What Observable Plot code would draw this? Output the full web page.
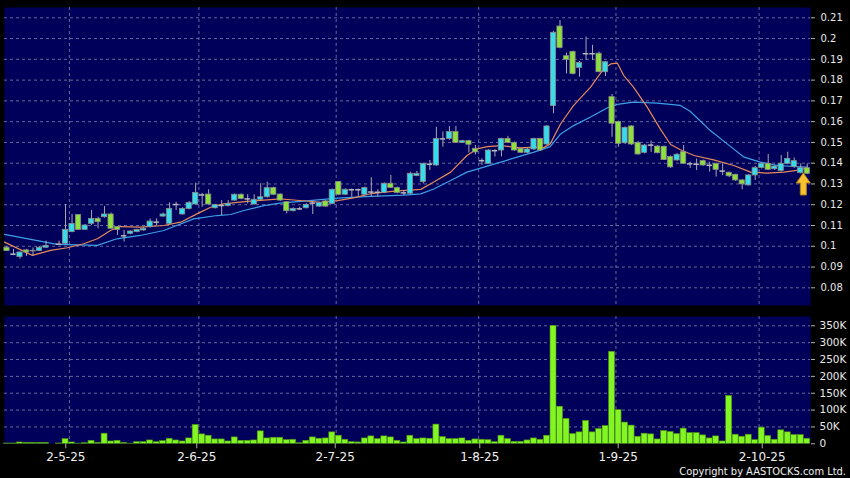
<!DOCTYPE html>
<html>
<head>
<meta charset="utf-8">
<script src="https://cdn.jsdelivr.net/npm/d3@7"></script>
<script src="https://cdn.jsdelivr.net/npm/@observablehq/plot@0.6"></script>
<style>
  html, body { margin: 0; padding: 0; background: #000; }
  #wrap { position: relative; width: 850px; height: 478px; background: #000; overflow: hidden; font-family: "DejaVu Sans", sans-serif; }
  #price { position: absolute; left: 0; top: 0; }
  #vol { position: absolute; left: 0; top: 310px; }
  #copy { position: absolute; right: 4px; top: 466px; line-height: 11px; color: #f0f0f0; font-size: 11px; font-family: "DejaVu Sans Condensed", "DejaVu Sans", sans-serif; font-stretch: condensed; }
</style>
</head>
<body>
<div id="wrap">
  <div id="price"></div>
  <div id="vol"></div>
  <div id="copy">Copyright by AASTOCKS.com Ltd.</div>
</div>
<script>
// ---- data (one entry per trading day) ----
const open = [0.0993,0.0962,0.0948,0.0980,0.0975,0.0977,0.0993,null,0.1010,0.1012,
0.1068,0.1150,0.1079,0.1108,0.1132,0.1140,0.1153,0.1092,0.1050,0.1060,
0.1068,0.1076,0.1092,0.1116,0.1143,0.1108,0.1201,0.1153,0.1180,0.1201,
0.1247,0.1249,0.1183,0.1196,0.1193,0.1220,0.1248,0.1228,0.1201,0.1224,
0.1236,0.1280,0.1249,0.1212,0.1169,0.1180,0.1183,0.1208,0.1191,0.1216,
0.1204,0.1309,0.1248,0.1272,0.1272,0.1248,0.1261,0.1260,0.1257,0.1301,
0.1280,0.1257,0.1253,0.1338,0.1309,0.1395,0.1389,0.1517,0.1517,0.1550,
0.1498,0.1506,0.1469,0.1412,0.1397,0.1460,0.1461,0.1517,0.1498,0.1469,
0.1450,0.1466,0.1517,0.1490,0.1675,0.2058,0.1915,0.1935,0.1859,0.1927,
0.1927,0.1927,0.1838,0.1718,0.1598,0.1496,0.1577,0.1498,0.1450,0.1487,
0.1480,0.1479,0.1430,0.1413,0.1453,0.1397,0.1395,0.1410,0.1390,0.1397,
0.1362,0.1354,0.1344,0.1317,0.1293,0.1341,0.1377,0.1397,0.1371,0.1362,
0.1397,0.1381,0.1352,0.1376];
const high = [0.1000,0.0985,0.0972,0.0985,0.0992,0.0998,0.1025,null,0.1025,0.1201,
0.1153,0.1152,0.1105,0.1172,0.1140,0.1191,0.1160,0.1095,0.1076,0.1075,
0.1082,0.1090,0.1132,0.1132,0.1160,0.1209,0.1212,0.1185,0.1215,0.1304,
0.1255,0.1272,0.1202,0.1220,0.1220,0.1252,0.1252,0.1249,0.1248,0.1301,
0.1309,0.1285,0.1252,0.1215,0.1185,0.1188,0.1205,0.1212,0.1212,0.1220,
0.1275,0.1312,0.1276,0.1275,0.1275,0.1285,0.1330,0.1272,0.1305,0.1341,
0.1285,0.1268,0.1357,0.1360,0.1400,0.1413,0.1573,0.1550,0.1577,0.1577,
0.1510,0.1510,0.1485,0.1421,0.1465,0.1465,0.1520,0.1529,0.1502,0.1472,
0.1470,0.1520,0.1520,0.1582,0.2035,0.2087,0.1930,0.1940,0.1890,0.2007,
0.1967,0.1935,0.1890,0.1731,0.1602,0.1575,0.1580,0.1505,0.1490,0.1507,
0.1485,0.1482,0.1435,0.1445,0.1485,0.1405,0.1420,0.1415,0.1405,0.1400,
0.1397,0.1357,0.1347,0.1320,0.1345,0.1385,0.1400,0.1442,0.1390,0.1437,
0.1453,0.1425,0.1397,0.1397];
const low = [0.0975,0.0955,0.0938,0.0951,0.0951,0.0975,0.0990,null,0.1005,0.1008,
0.1065,0.1076,0.1076,0.1100,0.1084,0.1135,0.1084,0.1052,0.1020,0.1055,
0.1065,0.1072,0.1088,0.1100,0.1140,0.1105,0.1172,0.1150,0.1175,0.1198,
0.1188,0.1198,0.1180,0.1148,0.1190,0.1216,0.1224,0.1204,0.1198,0.1220,
0.1232,0.1244,0.1216,0.1156,0.1165,0.1172,0.1180,0.1153,0.1188,0.1188,
0.1200,0.1244,0.1244,0.1236,0.1240,0.1244,0.1237,0.1237,0.1253,0.1278,
0.1253,0.1244,0.1250,0.1335,0.1300,0.1365,0.1385,0.1477,0.1510,0.1495,
0.1495,0.1449,0.1440,0.1389,0.1395,0.1430,0.1430,0.1495,0.1458,0.1448,
0.1446,0.1462,0.1458,0.1485,0.1638,0.1950,0.1830,0.1825,0.1814,0.1895,
0.1895,0.1835,0.1817,0.1525,0.1477,0.1490,0.1485,0.1438,0.1445,0.1452,
0.1445,0.1413,0.1375,0.1410,0.1395,0.1375,0.1365,0.1385,0.1357,0.1333,
0.1340,0.1330,0.1312,0.1272,0.1290,0.1317,0.1372,0.1365,0.1365,0.1357,
0.1393,0.1375,0.1349,0.1345];
const close = [0.0977,0.0962,0.0970,0.0970,0.0978,0.0993,0.1002,null,0.1010,0.1079,
0.1108,0.1079,0.1100,0.1132,0.1116,0.1153,0.1084,0.1079,0.1050,0.1071,
0.1079,0.1084,0.1119,0.1116,0.1153,0.1180,0.1201,0.1180,0.1209,0.1257,
0.1247,0.1201,0.1199,0.1196,0.1204,0.1248,0.1228,0.1228,0.1224,0.1236,
0.1280,0.1248,0.1220,0.1169,0.1180,0.1180,0.1199,0.1208,0.1208,0.1191,
0.1272,0.1248,0.1272,0.1272,0.1272,0.1280,0.1261,0.1260,0.1301,0.1281,
0.1257,0.1257,0.1349,0.1349,0.1397,0.1395,0.1517,0.1517,0.1550,0.1498,
0.1506,0.1489,0.1452,0.1412,0.1461,0.1460,0.1517,0.1498,0.1461,0.1450,
0.1466,0.1517,0.1461,0.1577,0.2028,0.1955,0.1898,0.1830,0.1882,0.1927,
0.1927,0.1838,0.1886,0.1590,0.1493,0.1570,0.1490,0.1442,0.1485,0.1487,
0.1448,0.1415,0.1380,0.1441,0.1397,0.1397,0.1395,0.1389,0.1390,0.1368,
0.1362,0.1337,0.1317,0.1298,0.1341,0.1376,0.1397,0.1368,0.1384,0.1397,
0.1421,0.1410,0.1376,0.1349];
const volume = [1000,1000,4000,3000,3000,3000,3000,0,1000,14000,
4000,500,2000,9000,3000,30000,7000,9000,3000,500,
5000,5000,10000,5000,8000,15000,10000,7000,16000,56000,
28000,24000,13000,13000,7000,19000,9000,9000,10000,37000,
16000,18000,18000,11000,12000,2000,9000,19000,15000,16000,
34000,24000,12000,5000,4000,16000,22000,14000,22000,19000,
9000,4000,24000,14000,16000,15000,57000,20000,14000,14000,
16000,9000,13000,12000,11000,5000,24000,14000,6000,6000,
10000,16000,12000,24000,350000,110000,74000,29000,34000,68000,
34000,44000,53000,273000,100000,63000,54000,21000,30000,28000,
13000,38000,35000,29000,45000,32000,32000,25000,16000,22000,
7000,142000,27000,21000,27000,11000,48000,23000,12000,40000,
34000,26000,26000,15000];

// moving averages (day position, value)
const maFastDay = [-0.38,3.9,6.7,9.3,11.8,13.9,15.9,17.4,20.5,24.1,26.7,29.2,31.3,33.3,36.9,42,43.6,48.2,50.8,53.3,55.9,60,63.6,65.6,68.2,70.7,72.3,73.8,75.9,78.9,81,82.5,83.5,85.1,87.1,89.7,91.7,92.8,93.8,94.8,96.3,98.4,100.4,102,103.5,105.6,108.6,111.7,114.3,116.8,119.4,122,123];
const maFast = [0.1020,0.0956,0.0980,0.0993,0.1012,0.1036,0.1076,0.1095,0.1092,0.1100,0.1116,0.1156,0.1188,0.1204,0.1216,0.1228,0.1224,0.1212,0.1220,0.1233,0.1253,0.1267,0.1274,0.1309,0.1357,0.1437,0.1469,0.1480,0.1485,0.1474,0.1477,0.1475,0.1493,0.1590,0.1678,0.1766,0.1854,0.1878,0.1882,0.1822,0.1766,0.1670,0.1565,0.1490,0.1465,0.1437,0.1416,0.1389,0.1357,0.1352,0.1357,0.1368,0.1378];
const maSlowDay = [-0.38,7.7,13.9,16.9,20.5,24.1,28.7,32.3,34.4,36.4,39.5,42,45.6,50.8,55.9,61,63.6,65.6,68.2,70.7,73.3,75.9,78.4,81,83.5,85.1,87.1,89.7,92.3,93.8,96.3,99.9,103.5,105,108.1,110.7,113.3,115.8,118.4,120.9,123];
const maSlow = [0.1057,0.1009,0.1004,0.1036,0.1052,0.1076,0.1132,0.1148,0.1153,0.1172,0.1196,0.1208,0.1217,0.1232,0.1240,0.1246,0.1252,0.1276,0.1317,0.1357,0.1381,0.1405,0.1429,0.1453,0.1480,0.1541,0.1581,0.1622,0.1667,0.1683,0.1694,0.1689,0.1678,0.1650,0.1557,0.1493,0.1429,0.1405,0.1389,0.1384,0.1381];

// axes
const dateLabels = ["2-5-25","2-6-25","2-7-25","1-8-25","1-9-25","2-10-25"];
const dateTickDay = [9.04, 29.17, 50.45, 72.67, 93.94, 116.08];
const dateGridDay = [9.6, 29.5, 50.6, 72.5, 93.6, 115.6];
const priceTicks = [0.08,0.09,0.10,0.11,0.12,0.13,0.14,0.15,0.16,0.17,0.18,0.19,0.20,0.21];
const volumeTicks = [0,50000,100000,150000,200000,250000,300000,350000];
const marker = [{day: 122.4, price: 0.1300}];

// ---- build rows ----
const rows = open.map((o, i) => ({i, open: o, high: high[i], low: low[i], close: close[i], volume: volume[i]}));
const traded = rows.filter(d => d.open != null);
const bodies = traded.filter(d => d.open !== d.close);
const dojis = traded.filter(d => d.open === d.close);
const fastPts = maFastDay.map((day, k) => ({day, v: maFast[k]}));
const slowPts = maSlowDay.map((day, k) => ({day, v: maSlow[k]}));

const NAVY = "#00005a";
const UP = "#35dcec";
const DOWN = "#8ee13c";
const GRID = {stroke: "#8a8ab4", strokeOpacity: 0.75, strokeDasharray: "3,3", strokeWidth: 1};
const xDomain = [-0.38, 123.5];

const price = Plot.plot({
  width: 850, height: 310,
  marginTop: 7, marginBottom: 5, marginLeft: 4, marginRight: 40,
  style: {background: "#000", color: "#e8e8e8", fontFamily: "DejaVu Sans, sans-serif", overflow: "visible"},
  x: {domain: xDomain, axis: null},
  y: {domain: [0.07148, 0.21496], axis: null},
  marks: [
    Plot.frame({fill: NAVY, stroke: null}),
    Plot.ruleY(priceTicks, {y: d => d, ...GRID}),
    Plot.ruleX(dateGridDay, {x: d => d, ...GRID}),
    Plot.line(slowPts, {x: "day", y: "v", stroke: "#3d9fe6", strokeWidth: 1.2}),
    Plot.line(fastPts, {x: "day", y: "v", stroke: "#e5895a", strokeWidth: 1.2}),
    Plot.ruleX(traded, {x: "i", y1: "low", y2: "high", stroke: "#a8a8b0", strokeWidth: 1}),
    Plot.rect(bodies, {
      x1: d => d.i - 0.4, x2: d => d.i + 0.4, y1: "open", y2: "close",
      fill: d => d.close > d.open ? UP : DOWN, stroke: "#8c8c8c", strokeWidth: 0.8
    }),
    Plot.ruleY(dojis, {y: "close", x1: d => d.i - 0.42, x2: d => d.i + 0.42, stroke: "#b8b8c0", strokeWidth: 1.5}),
    Plot.dot(marker, {
      x: "day", y: "price", r: 6,
      symbol: {draw(ctx) {
        ctx.moveTo(0, -11); ctx.lineTo(7, -1); ctx.lineTo(3, -1); ctx.lineTo(3, 11);
        ctx.lineTo(-3, 11); ctx.lineTo(-3, -1); ctx.lineTo(-7, -1); ctx.closePath();
      }},
      fill: "#f6c232", stroke: "#b8820e", strokeWidth: 1
    }),
    Plot.axisY(priceTicks, {
      anchor: "right", label: null, tickSize: 4, tickPadding: 6, fontSize: 10,
      tickFormat: d => String(+d.toFixed(2)), stroke: "#b0b0b0", fill: "#e8e8e8"
    })
  ]
});
document.getElementById("price").appendChild(price);

const vol = Plot.plot({
  width: 850, height: 168,
  marginTop: 6, marginBottom: 34.7, marginLeft: 4, marginRight: 40,
  style: {background: "#000", color: "#e8e8e8", fontFamily: "DejaVu Sans, sans-serif", overflow: "visible"},
  x: {domain: xDomain, axis: null},
  y: {domain: [0, 377600], axis: null},
  marks: [
    Plot.frame({fill: NAVY, stroke: null}),
    Plot.ruleY(volumeTicks.filter(d => d > 0), {y: d => d, ...GRID}),
    Plot.ruleX(dateGridDay, {x: d => d, ...GRID}),
    Plot.rectY(rows.filter(d => d.volume > 0), {
      x1: d => d.i - 0.46, x2: d => d.i + 0.46, y: "volume",
      fill: "#82f522", stroke: "#4c8f12", strokeWidth: 0.6
    }),
    Plot.axisY(volumeTicks, {
      anchor: "right", label: null, tickSize: 4, tickPadding: 5, fontSize: 10.5,
      tickFormat: d => d === 0 ? "0" : (d / 1000) + "K", stroke: "#b0b0b0", fill: "#e8e8e8"
    }),
    Plot.axisX(dateTickDay, {
      anchor: "bottom", label: null, tickSize: 5, tickPadding: 4, fontSize: 12,
      tickFormat: d => dateLabels[dateTickDay.indexOf(d)], stroke: "#b0b0b0", fill: "#f0f0f0"
    })
  ]
});
document.getElementById("vol").appendChild(vol);
</script>
</body>
</html>
